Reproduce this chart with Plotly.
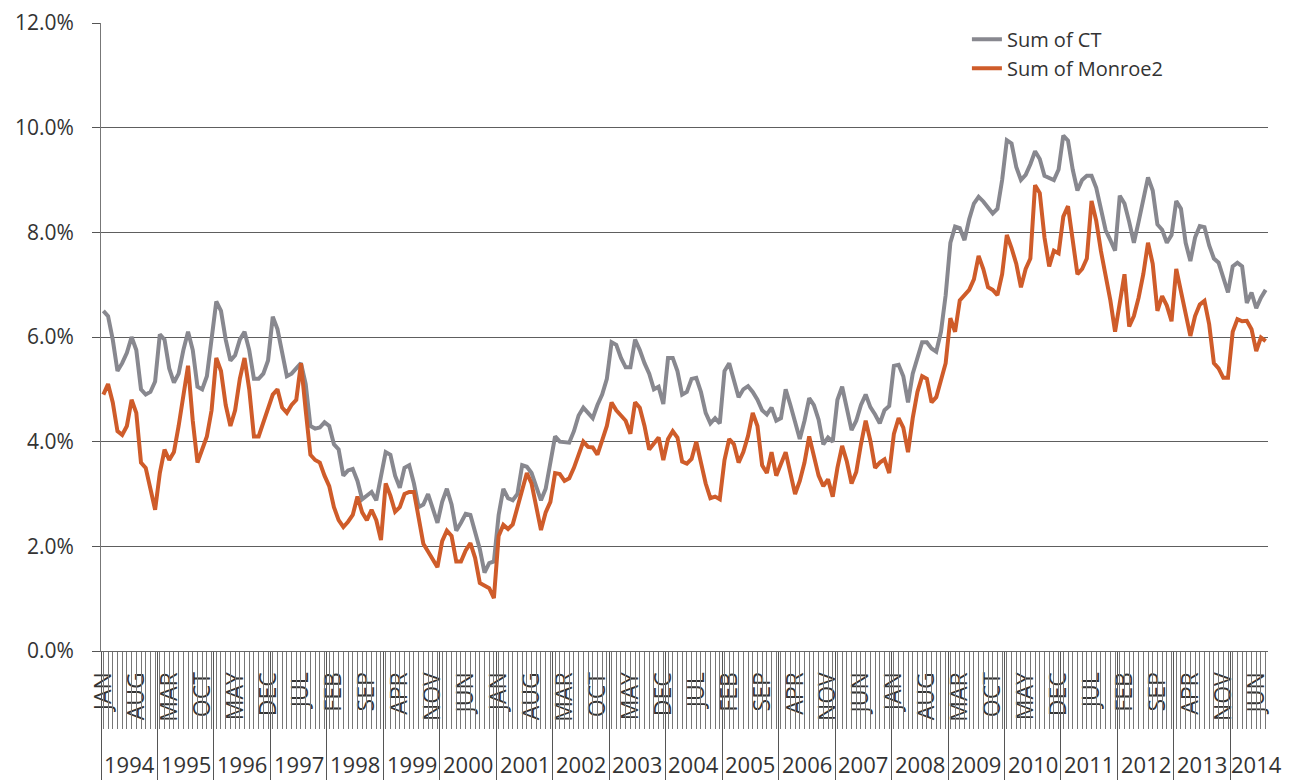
import plotly.graph_objects as go

# ---------------- data ----------------
MONTH_NAMES = ["JAN", "FEB", "MAR", "APR", "MAY", "JUN",
               "JUL", "AUG", "SEP", "OCT", "NOV", "DEC"]
YEARS = [1994, 1995, 1996, 1997, 1998, 1999, 2000, 2001, 2002, 2003, 2004,
         2005, 2006, 2007, 2008, 2009, 2010, 2011, 2012, 2013, 2014]

# monthly values, Jan 1994 .. Aug 2014 (percent)
CT = [
    6.5, 6.4, 5.95, 5.35, 5.5, 5.7, 6.0, 5.75, 5.0, 4.9,
    4.95, 5.15, 6.05, 5.95, 5.4, 5.13, 5.3, 5.75, 6.1, 5.75,
    5.05, 5.0, 5.25, 6.0, 6.68, 6.5, 5.95, 5.55, 5.65, 5.95,
    6.1, 5.75, 5.2, 5.2, 5.3, 5.55, 6.39, 6.15, 5.65, 5.25,
    5.3, 5.4, 5.5, 5.1, 4.3, 4.25, 4.27, 4.37, 4.3, 3.95,
    3.85, 3.35, 3.45, 3.48, 3.25, 2.9, 2.97, 3.04, 2.88, 3.3,
    3.8, 3.75, 3.35, 3.12, 3.5, 3.55, 3.2, 2.75, 2.8, 3.0,
    2.7, 2.45, 2.85, 3.1, 2.8, 2.3, 2.45, 2.62, 2.6, 2.3,
    1.95, 1.5, 1.68, 1.71, 2.6, 3.1, 2.92, 2.88, 3.0, 3.55,
    3.52, 3.4, 3.15, 2.88, 3.1, 3.6, 4.1, 4.0, 3.99, 3.98,
    4.2, 4.5, 4.65, 4.55, 4.45, 4.7, 4.9, 5.2, 5.9, 5.85,
    5.6, 5.42, 5.42, 5.95, 5.75, 5.5, 5.3, 5.0, 5.05, 4.72,
    5.6, 5.6, 5.35, 4.9, 4.95, 5.2, 5.22, 4.95, 4.55, 4.35,
    4.45, 4.35, 5.35, 5.5, 5.2, 4.85, 5.0, 5.06, 4.95, 4.8,
    4.6, 4.52, 4.65, 4.4, 4.45, 5.0, 4.7, 4.35, 4.05, 4.4,
    4.83, 4.7, 4.42, 3.95, 4.08, 4.0, 4.8, 5.05, 4.6, 4.22,
    4.4, 4.7, 4.9, 4.66, 4.52, 4.35, 4.6, 4.68, 5.45, 5.47,
    5.25, 4.75, 5.3, 5.6, 5.9, 5.9, 5.78, 5.72, 6.1, 6.8,
    7.8, 8.11, 8.08, 7.85, 8.25, 8.55, 8.68, 8.59, 8.46, 8.36,
    8.45, 9.0, 9.76, 9.7, 9.25, 9.0, 9.1, 9.3, 9.55, 9.4,
    9.08, 9.05, 9.0, 9.2, 9.85, 9.75, 9.2, 8.8, 9.0, 9.08,
    9.08, 8.85, 8.45, 8.04, 7.85, 7.65, 8.7, 8.55, 8.2, 7.8,
    8.2, 8.6, 9.05, 8.8, 8.15, 8.05, 7.8, 7.95, 8.6, 8.45,
    7.8, 7.45, 7.9, 8.12, 8.1, 7.75, 7.5, 7.42, 7.1, 6.85,
    7.35, 7.42, 7.35, 6.65, 6.85, 6.55, 6.75, 6.9,
]

MONROE2 = [
    4.9, 5.1, 4.75, 4.2, 4.13, 4.3, 4.8, 4.55, 3.6, 3.5,
    3.1, 2.7, 3.4, 3.85, 3.65, 3.8, 4.3, 4.9, 5.45, 4.4,
    3.6, 3.85, 4.1, 4.6, 5.6, 5.35, 4.7, 4.3, 4.6, 5.2,
    5.6, 5.0, 4.1, 4.1, 4.35, 4.6, 4.9, 5.0, 4.65, 4.55,
    4.7, 4.8, 5.5, 4.6, 3.75, 3.65, 3.6, 3.35, 3.15, 2.75,
    2.5, 2.37, 2.47, 2.6, 2.95, 2.65, 2.5, 2.7, 2.5, 2.12,
    3.2, 2.97, 2.66, 2.75, 3.0, 3.04, 3.04, 2.55, 2.05, 1.9,
    1.75, 1.6, 2.1, 2.3, 2.2, 1.71, 1.71, 1.92, 2.06, 1.78,
    1.3, 1.25, 1.2, 1.01, 2.2, 2.41, 2.33, 2.42, 2.75, 3.1,
    3.4, 3.2, 2.72, 2.31, 2.65, 2.85, 3.4, 3.38, 3.25, 3.3,
    3.5, 3.73, 4.0, 3.9, 3.89, 3.75, 4.0, 4.3, 4.75, 4.6,
    4.5, 4.4, 4.15, 4.75, 4.65, 4.3, 3.85, 3.98, 4.08, 3.65,
    4.05, 4.2, 4.08, 3.62, 3.58, 3.67, 4.0, 3.6, 3.2, 2.92,
    2.95, 2.9, 3.65, 4.05, 3.95, 3.6, 3.8, 4.11, 4.55, 4.3,
    3.55, 3.4, 3.8, 3.35, 3.6, 3.8, 3.4, 3.0, 3.25, 3.6,
    4.1, 3.75, 3.35, 3.15, 3.28, 2.95, 3.5, 3.92, 3.62, 3.2,
    3.42, 3.95, 4.4, 4.02, 3.5, 3.6, 3.66, 3.4, 4.15, 4.45,
    4.27, 3.8, 4.45, 4.95, 5.25, 5.2, 4.75, 4.85, 5.15, 5.5,
    6.36, 6.1, 6.7, 6.8, 6.9, 7.1, 7.55, 7.3, 6.95, 6.9,
    6.8, 7.2, 7.95, 7.7, 7.4, 6.95, 7.3, 7.5, 8.9, 8.75,
    7.9, 7.35, 7.65, 7.6, 8.3, 8.5, 7.9, 7.2, 7.3, 7.5,
    8.6, 8.22, 7.64, 7.2, 6.7, 6.1, 6.7, 7.2, 6.2, 6.4,
    6.75, 7.2, 7.8, 7.4, 6.5, 6.78, 6.6, 6.3, 7.3, 6.85,
    6.4, 6.02, 6.4, 6.62, 6.69, 6.24, 5.5, 5.4, 5.22, 5.22,
    6.1, 6.34, 6.3, 6.31, 6.15, 5.73, 5.99, 5.92,
]

SERIES_NAMES = ["Sum of CT", "Sum of Monroe2"]
Y_TICKS = [0, 2, 4, 6, 8, 10, 12]
Y_TICK_TEXT = ["0.0%", "2.0%", "4.0%", "6.0%", "8.0%", "10.0%", "12.0%"]

# ---------------- derived ----------------
n = len(CT)
idx = list(range(n))
label_idx = idx[::7]
label_txt = [MONTH_NAMES[i % 12] for i in label_idx]
year_bounds = [12 * k - 0.5 for k in range(len(YEARS))]
year_centers = [(12 * k - 0.5 + min(12 * k + 11.5, n - 0.5)) / 2 for k in range(len(YEARS))]

FONT = "Open Sans"
GRAY = "#88888f"
ORANGE = "#cf5c2a"
XR = [-0.5, n - 0.5]

# page has an 8px body margin: figure is sized to fit the window
W, H = 1282, 772
ML, MR, MT, MB = 93, 22, 12, 129
PLOT_H = H - MT - MB

fig = go.Figure()
fig.add_trace(go.Scatter(x=idx, y=CT, name=SERIES_NAMES[0], mode="lines",
                         line=dict(color=GRAY, width=4)))
fig.add_trace(go.Scatter(x=idx, y=MONROE2, name=SERIES_NAMES[1], mode="lines",
                         line=dict(color=ORANGE, width=4)))
# invisible carriers for the decorative overlay axes
for ax in ["x2", "x3"]:
    fig.add_trace(go.Scatter(x=idx, y=CT, xaxis=ax, yaxis="y", mode="lines",
                             line=dict(width=0), opacity=0, showlegend=False,
                             hoverinfo="skip"))

for k, yr in enumerate(YEARS):
    partial = (12 * k + 11.5) > (n - 0.5)
    fig.add_annotation(x=year_centers[k], y=-114 / PLOT_H, xref="x", yref="paper",
                       text=str(yr), showarrow=False, xanchor="center", yanchor="middle",
                       xshift=7 if partial else 0,
                       font=dict(family=FONT, size=22, color="#333"))

fig.update_layout(
    width=W, height=H,
    margin=dict(l=ML, r=MR, t=MT, b=MB),
    paper_bgcolor="white", plot_bgcolor="white",
    font=dict(family=FONT, color="#333"),
    showlegend=True,
    legend=dict(x=0.742, y=1.005, xanchor="left", yanchor="top",
                bgcolor="rgba(0,0,0,0)", font=dict(size=20, color="#333"),
                tracegroupgap=0),
    xaxis=dict(range=XR, tickmode="array", tickvals=label_idx, ticktext=label_txt,
               tickangle=-90, ticks="", ticklabelstandoff=11,
               tickfont=dict(family=FONT, size=23, color="#333"),
               showline=True, linecolor="#666", linewidth=1,
               showgrid=False, zeroline=False, automargin=False, fixedrange=True),
    xaxis2=dict(range=XR, overlaying="x", anchor="y", side="bottom",
                tickmode="linear", tick0=0, dtick=1, ticks="outside", ticklen=77,
                tickcolor="#777777", tickwidth=1, showticklabels=False,
                showline=False, showgrid=False, zeroline=False, automargin=False,
                fixedrange=True),
    xaxis3=dict(range=XR, overlaying="x", anchor="y", side="bottom",
                tickmode="array", tickvals=year_bounds, ticks="outside", ticklen=129,
                tickcolor="#555", tickwidth=1, showticklabels=False,
                showline=False, showgrid=False, zeroline=False, automargin=False,
                fixedrange=True),
    yaxis=dict(range=[0, 12], tickmode="array", tickvals=Y_TICKS, ticktext=Y_TICK_TEXT,
               ticks="outside", ticklen=8, tickcolor="#555",
               ticklabelstandoff=14,
               tickfont=dict(family=FONT, size=21, color="#333"),
               showgrid=True, gridcolor="#5e5e5e", gridwidth=1,
               showline=True, linecolor="#777", linewidth=1,
               zeroline=False, automargin=False, fixedrange=True),
)

fig.write_html("out.html")
